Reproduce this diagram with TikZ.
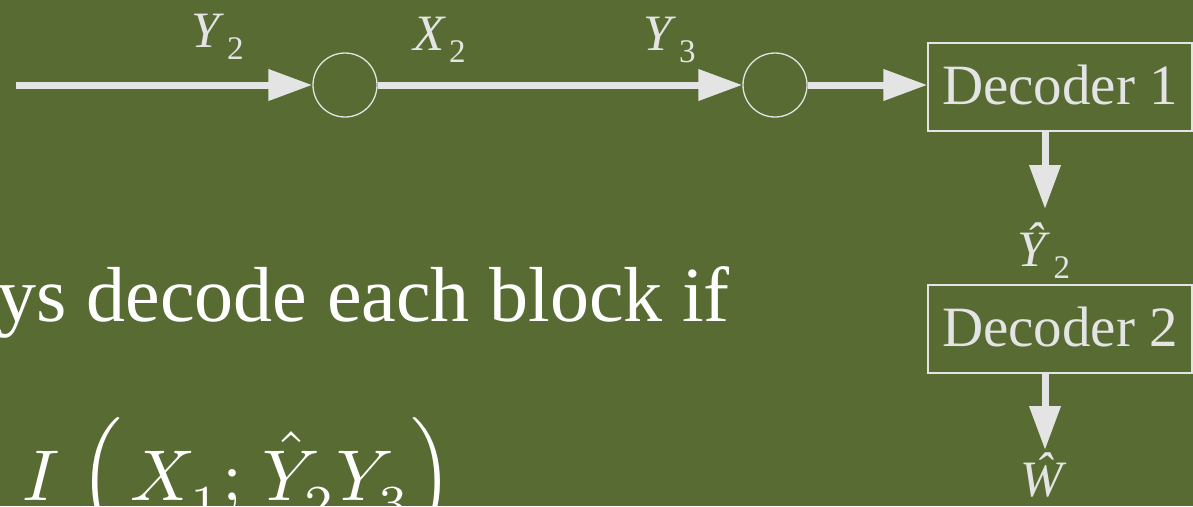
\documentclass[tikz,border=0pt]{standalone}
\usepackage{graphicx}
\usepackage{fontspec}
\setmainfont{Liberation Serif}
\usetikzlibrary{arrows.meta}
\definecolor{bg}{RGB}{87,107,50}
\definecolor{fg}{RGB}{228,228,228}
\newcommand{\sublbl}[2]{\textit{#1}\hspace{3pt}\raisebox{-12pt}{\fontsize{33}{33}\selectfont #2}}
\newcommand{\lowsub}[1]{\raisebox{-1.3pt}{$\scriptstyle #1$}}
\begin{document}
\begin{tikzpicture}[x=1pt,y=-1pt,
  conn/.style={draw=fg, line width=7pt, -{Triangle[length=44pt,width=30pt]}},
  junc/.style={circle, draw=fg, line width=1.3pt, minimum size=64pt, inner sep=0pt},
  dec/.style={draw=fg, line width=1.3pt, minimum width=264pt, minimum height=88pt, inner sep=0pt, text=fg, font=\fontsize{57}{60}\selectfont, text depth=4pt},
  lbl/.style={text=fg, inner sep=0pt, font=\fontsize{51}{55}\selectfont},
  slide/.style={text=white, inner sep=0pt}]
\fill[bg] (0,0) rectangle (1193,506);
\useasboundingbox (0,0) rectangle (1193,506);
\clip (0,0) rectangle (1193,506);

\coordinate (start) at (16,85);
\node[junc] (c1) at (345,85) {};
\node[junc] (c2) at (775,85) {};
\node[dec] (d1) at (1060,87) {Decoder 1};
\node[dec] (d2) at (1060,329) {Decoder 2};

\node[lbl, anchor=base west] (ly2) at (191,47) {\sublbl{Y}{2}};
\node[lbl, anchor=base west] (lx2) at (413,50) {\sublbl{X}{2}};
\node[lbl, anchor=base west] (ly3) at (643,50) {\sublbl{Y}{3}};

\node[lbl, anchor=north] (yh) at (1044,223) {\sublbl{\^Y}{2}};
\node[lbl, anchor=north] (wh) at (1044,453) {\textit{\^W}};

\draw[conn] (start) -- (c1.west);
\draw[conn] (c1.east) -- (c2.west);
\draw[conn] (c2.east) -- (c2.east -| d1.west);
\draw[conn, shorten >=14pt] (d1.south -| 1045,0) -- (yh.north -| 1045,0);
\draw[conn, shorten >=3pt] (d2.south -| 1045,0) -- (wh.north -| 1045,0);

\node[slide, anchor=base east, font=\fontsize{78}{80}\selectfont] (txt) at (730,321) {ys decode each block if};
\node[slide, anchor=base west] (mi) at (22,500) {\scalebox{7.2}{$I\;\Bigl(\mkern2mu X_{\lowsub{1}};\mkern2mu\hat{Y}_{\lowsub{2}}Y_{\lowsub{3}}\Bigr)$}};
\end{tikzpicture}
\end{document}
